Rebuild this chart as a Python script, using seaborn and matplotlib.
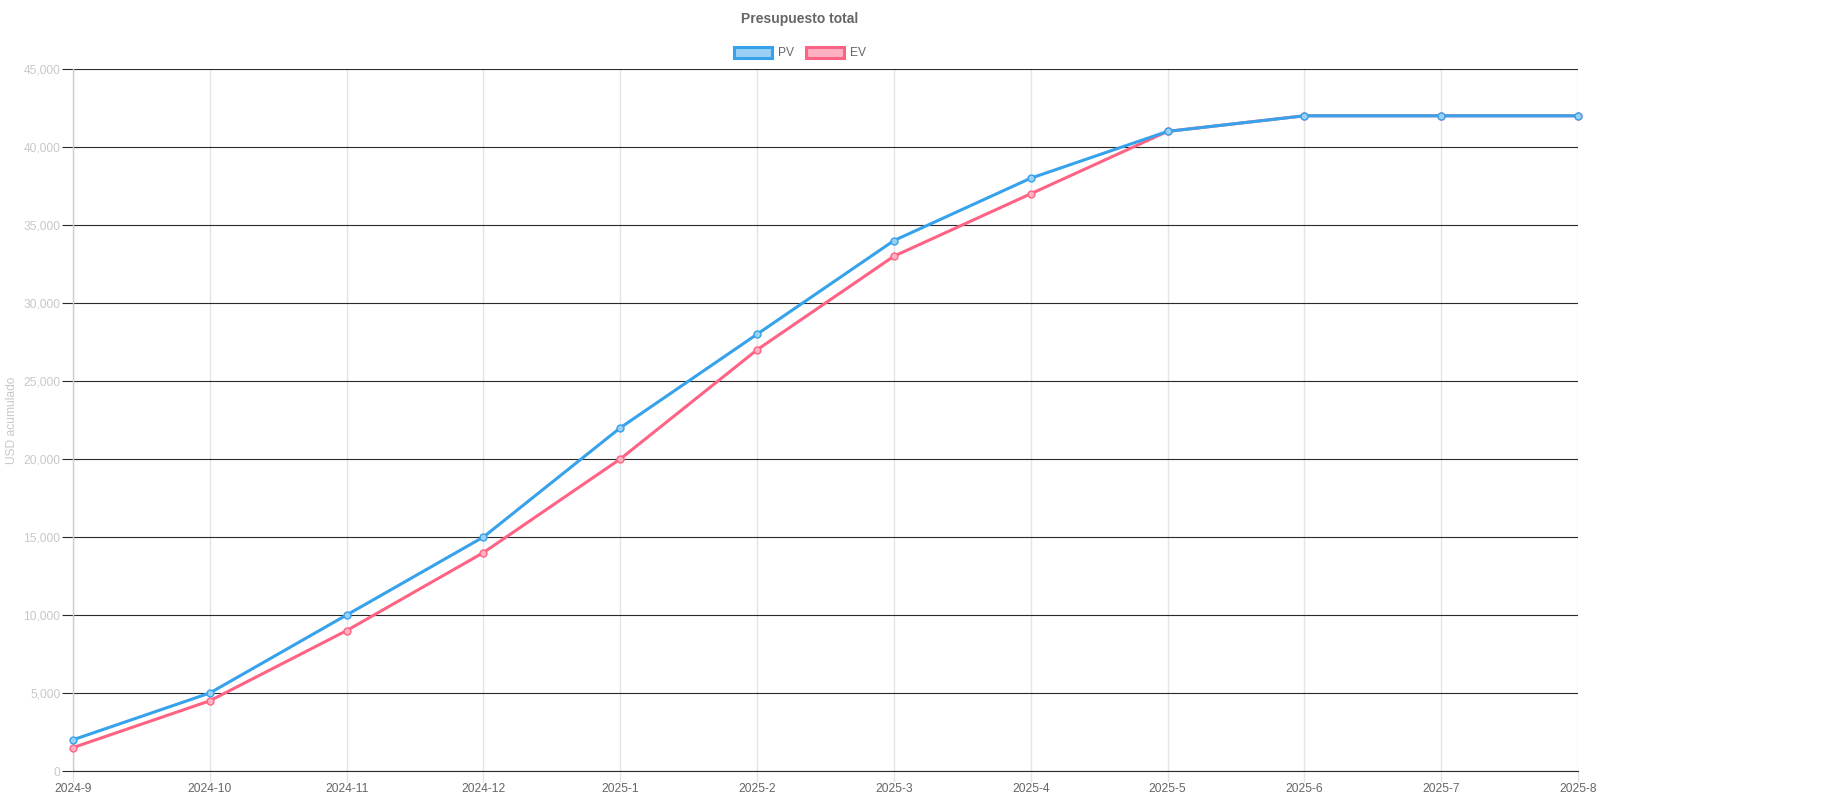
import matplotlib
matplotlib.use("Agg")
import matplotlib.pyplot as plt
import seaborn as sns
import pandas as pd
from matplotlib.patches import Patch
from matplotlib.ticker import FuncFormatter, MultipleLocator

months = ["2024-9", "2024-10", "2024-11", "2024-12", "2025-1", "2025-2",
          "2025-3", "2025-4", "2025-5", "2025-6", "2025-7", "2025-8"]
pv = [2000, 5000, 10000, 15000, 22000, 28000, 34000, 38000, 41000, 42000, 42000, 42000]
ev = [1500, 4500, 9000, 14000, 20000, 27000, 33000, 37000, 41000, 42000, 42000, 42000]

BLUE = "#36a2eb"
RED = "#ff6384"
BLUE_L = "#9ad0f5"
RED_L = "#ffb1c1"

sns.set_theme(style="white")
plt.rcParams['font.family'] = ['Liberation Sans', 'DejaVu Sans']

df = pd.DataFrame({
    "mes": months * 2,
    "valor": pv + ev,
    "serie": ["PV"] * len(months) + ["EV"] * len(months),
})
df["x"] = list(range(len(months))) * 2

fig = plt.figure(figsize=(18.33, 8.0), dpi=100)
ax = fig.add_axes([73 / 1833, 1 - 771 / 800, (1578 - 73) / 1833, (771 - 69) / 800])

sns.lineplot(data=df, x="x", y="valor", hue="serie", hue_order=["EV", "PV"],
             palette={"PV": BLUE, "EV": RED}, linewidth=2.2, ax=ax, legend=False,
             marker="o", markersize=5, markeredgewidth=1.0, clip_on=False, zorder=3)
light = {BLUE: BLUE_L, RED: RED_L}
for ln in ax.lines:
    c = matplotlib.colors.to_hex(ln.get_color())
    ln.set_markeredgecolor(c)
    ln.set_markerfacecolor(light.get(c, c))
    ln.set_alpha(1)

ax.set_xlim(0, len(months) - 1)
ax.set_ylim(0, 45000)
ax.yaxis.set_major_locator(MultipleLocator(5000))
ax.yaxis.set_major_formatter(FuncFormatter(lambda v, p: f"{int(v):,}"))
ax.set_xticks(range(len(months)))
ax.set_xticklabels(months)

ax.grid(axis="y", color="#2a2a2a", linewidth=0.8, zorder=0)
ax.grid(axis="x", color="#e5e5e5", linewidth=1.0, zorder=0)
ax.set_axisbelow(True)
for s in ["top", "right"]:
    ax.spines[s].set_visible(False)
ax.spines["left"].set_color("#cccccc")
ax.spines["left"].set_linewidth(1.0)
ax.spines["bottom"].set_color("#2a2a2a")
ax.spines["bottom"].set_linewidth(0.8)

ax.tick_params(axis="y", length=8, width=0.8, color="#2a2a2a", labelcolor="#c8c8c8",
               labelsize=8.64, pad=1, left=True)
ax.tick_params(axis="x", length=8, width=1, color="#e5e5e5", labelcolor="#666666",
               labelsize=8.64, pad=1, bottom=True)

ax.set_xlabel("")
ax.set_ylabel("USD acumulado", color="#c8c8c8", fontsize=8.64)
ax.yaxis.set_label_coords(-55 / 1505, 0.5)

fig.text(800 / 1833, 1 - 19 / 800, "Presupuesto total",
         ha="center", va="center", fontsize=10, fontweight="bold", color="#666666")

handles = [Patch(facecolor=BLUE_L, edgecolor=BLUE, linewidth=2.2, label="PV"),
           Patch(facecolor=RED_L, edgecolor=RED, linewidth=2.2, label="EV")]
fig.legend(handles=handles, loc="center", bbox_to_anchor=(800 / 1833, 1 - 53 / 800),
           ncol=2, frameon=False, fontsize=8.64, handlelength=3.2, handleheight=1.1,
           handletextpad=0.5, columnspacing=1.0, labelcolor="#666666")

fig.savefig("out.png", dpi=100)
